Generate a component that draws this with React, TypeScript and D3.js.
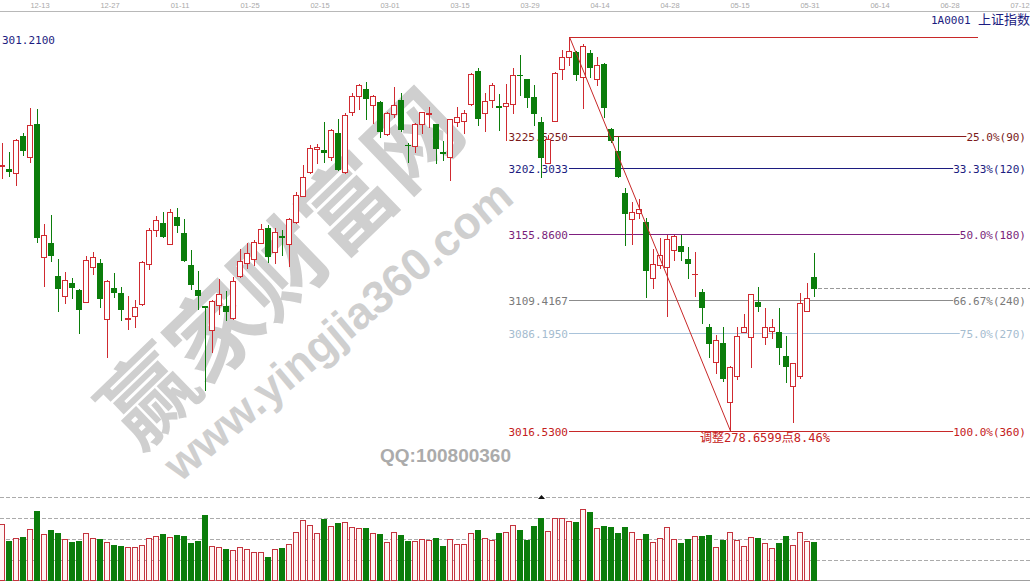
import React from 'react';
import * as d3 from 'd3';

// Daily K-line data, oldest first
const opens = [
  3204.0, 3201.8, 3198.8, 3225.2, 3210.1, 3233.7, 3139.4, 3149.3, 3126.2, 3112.2,
  3121.2, 3116.3, 3108.0, 3132.7, 3135.6, 3096.0, 3117.7, 3114.3, 3096.0, 3097.9,
  3106.1, 3134.4, 3158.7, 3163.4, 3149.0, 3167.9, 3156.4, 3133.9, 3116.3, 3104.7,
  3088.0, 3105.6, 3104.7, 3096.7, 3126.2, 3135.1, 3138.0, 3149.7, 3159.9, 3143.3,
  3154.3, 3148.6, 3164.6, 3183.0, 3199.5, 3216.2, 3215.3, 3210.5, 3227.5, 3199.5,
  3241.9, 3253.5, 3258.2, 3247.1, 3249.4, 3226.4, 3240.7, 3250.6, 3219.0, 3218.1,
  3233.5, 3241.0, 3233.5, 3213.8, 3210.1, 3235.3, 3235.8, 3247.6, 3271.4, 3241.2,
  3250.3, 3246.1, 3246.4, 3247.8, 3268.5, 3265.3, 3252.5, 3234.9, 3206.3, 3236.0,
  3272.4, 3280.8, 3284.8, 3266.7, 3283.7, 3265.3, 3276.1, 3229.9, 3214.8, 3184.7,
  3166.3, 3170.5, 3164.4, 3124.5, 3133.9, 3132.3, 3144.5, 3147.4, 3138.2, 3127.4,
  3115.0, 3089.9, 3065.5, 3078.6, 3037.3, 3055.4, 3086.8, 3083.2, 3108.0, 3083.2,
  3087.5, 3086.8, 3069.6, 3048.6, 3055.6, 3101.6, 3125.2,
];
const highs = [
  3220.0, 3213.9, 3223.0, 3227.5, 3244.8, 3244.1, 3162.9, 3169.3, 3138.0, 3128.8,
  3125.0, 3116.8, 3140.5, 3143.3, 3138.2, 3123.3, 3128.1, 3118.6, 3112.0, 3109.2,
  3136.6, 3159.9, 3168.6, 3171.6, 3173.5, 3174.5, 3166.3, 3144.5, 3129.7, 3105.0,
  3109.1, 3123.8, 3115.6, 3125.7, 3145.5, 3149.3, 3151.6, 3162.9, 3162.2, 3159.9,
  3158.7, 3167.0, 3185.8, 3204.7, 3218.8, 3219.5, 3235.3, 3230.1, 3237.0, 3241.2,
  3255.4, 3261.7, 3263.2, 3253.9, 3249.8, 3242.4, 3259.6, 3255.4, 3220.0, 3234.6,
  3242.4, 3245.5, 3233.9, 3221.6, 3237.4, 3245.9, 3243.6, 3269.5, 3273.1, 3255.4,
  3262.4, 3254.7, 3261.6, 3273.6, 3282.5, 3265.7, 3261.2, 3238.8, 3225.9, 3270.3,
  3286.0, 3295.19, 3285.2, 3290.2, 3286.0, 3280.8, 3276.5, 3230.8, 3224.7, 3188.2,
  3178.7, 3180.4, 3167.2, 3145.0, 3152.8, 3155.2, 3155.2, 3155.2, 3146.9, 3143.3,
  3116.8, 3092.2, 3084.4, 3089.9, 3062.4, 3090.3, 3099.1, 3113.6, 3118.6, 3103.3,
  3095.5, 3103.3, 3083.7, 3064.8, 3114.3, 3121.0, 3142.2,
];
const lows = [
  3195.3, 3196.9, 3190.5, 3211.7, 3207.0, 3150.4, 3119.1, 3137.0, 3101.6, 3106.9,
  3110.8, 3085.6, 3107.5, 3127.4, 3104.4, 3069.1, 3111.5, 3095.0, 3088.5, 3090.3,
  3105.6, 3130.9, 3154.5, 3153.5, 3148.6, 3157.5, 3136.8, 3116.8, 3102.6, 3045.5,
  3072.6, 3099.3, 3095.0, 3096.0, 3125.8, 3131.6, 3133.7, 3149.3, 3136.3, 3135.6,
  3141.0, 3133.2, 3163.4, 3182.6, 3199.1, 3205.9, 3207.0, 3208.2, 3201.1, 3199.1,
  3240.0, 3244.1, 3237.0, 3234.2, 3224.3, 3226.0, 3238.4, 3228.9, 3207.0, 3214.1,
  3227.1, 3231.8, 3205.9, 3208.2, 3194.1, 3232.2, 3227.5, 3247.2, 3233.0, 3228.7,
  3245.9, 3229.1, 3222.3, 3241.2, 3254.2, 3245.9, 3233.0, 3196.4, 3205.9, 3235.6,
  3265.3, 3275.4, 3264.8, 3244.8, 3267.1, 3261.2, 3238.4, 3220.9, 3196.5, 3148.1,
  3148.8, 3167.0, 3111.5, 3117.9, 3131.6, 3097.9, 3137.5, 3137.5, 3124.5, 3112.0,
  3092.7, 3069.1, 3057.3, 3052.1, 3016.53, 3053.1, 3086.4, 3061.6, 3101.6, 3078.1,
  3082.1, 3063.9, 3051.4, 3023.1, 3053.8, 3101.2, 3112.0,
];
const closes = [
  3204.7, 3200.4, 3222.3, 3215.3, 3233.0, 3153.5, 3155.2, 3141.2, 3117.9, 3123.3,
  3118.6, 3103.0, 3137.5, 3139.4, 3110.8, 3122.8, 3114.8, 3103.0, 3096.4, 3104.0,
  3136.1, 3158.7, 3165.6, 3154.5, 3171.2, 3162.2, 3137.3, 3120.3, 3112.9, 3104.0,
  3108.7, 3113.4, 3101.6, 3122.8, 3136.6, 3142.2, 3149.9, 3159.2, 3140.5, 3157.1,
  3153.9, 3166.7, 3183.4, 3196.4, 3216.5, 3217.6, 3213.6, 3229.4, 3201.8, 3240.0,
  3253.5, 3261.2, 3251.8, 3253.5, 3228.9, 3241.7, 3247.1, 3230.1, 3218.6, 3233.7,
  3241.9, 3241.4, 3216.9, 3213.4, 3237.0, 3238.8, 3241.7, 3269.0, 3237.7, 3250.1,
  3261.2, 3245.7, 3248.5, 3268.5, 3268.1, 3253.0, 3241.7, 3210.5, 3222.8, 3269.9,
  3280.8, 3285.5, 3269.0, 3288.8, 3273.8, 3275.4, 3245.9, 3222.3, 3196.9, 3170.9,
  3171.6, 3173.3, 3130.4, 3134.6, 3141.0, 3152.3, 3154.5, 3144.0, 3135.6, 3127.8,
  3104.0, 3079.0, 3080.9, 3053.8, 3062.0, 3083.7, 3090.3, 3113.2, 3104.9, 3090.3,
  3090.3, 3076.2, 3062.7, 3064.4, 3107.3, 3110.4, 3117.9,
];
const volumes = [
  270, 190, 203, 210, 246, 333, 224, 243, 229, 198,
  186, 190, 227, 203, 198, 184, 171, 167, 160, 160,
  170, 203, 213, 224, 208, 219, 214, 181, 190, 314,
  165, 160, 152, 146, 160, 151, 137, 137, 114, 151,
  157, 175, 232, 289, 267, 227, 295, 262, 276, 279,
  256, 251, 251, 227, 224, 184, 232, 219, 190, 190,
  198, 195, 203, 167, 198, 175, 175, 227, 243, 203,
  194, 229, 232, 265, 243, 195, 262, 300, 237, 298,
  298, 284, 281, 341, 329, 251, 262, 257, 229, 257,
  232, 198, 224, 184, 203, 256, 198, 181, 198, 213,
  213, 219, 160, 195, 232, 194, 165, 208, 203, 180,
  156, 181, 213, 170, 232, 190, 186,
];

// Date axis: one label every ten sessions, starting at session 5
const dateLabels = [
  '12-13', '12-27', '01-11', '01-25', '02-15', '03-01', '03-15', '03-29',
  '04-14', '04-28', '05-15', '05-31', '06-14', '06-28', '07-12',
];
const firstLabelIndex = 5;
const labelStep = 10;

// Golden-section retracement levels measured from the swing high
const fibRatios = [0.25, 1 / 3, 0.5, 2 / 3, 0.75, 1];
const fibLineColors = ['#8b1c1c', '#1c1c80', '#7f1f7f', '#8c8c8c', '#a9c3da', '#c82828'];
const fibTextColors = ['#7a1a1a', '#1c1c80', '#7a1f7a', '#7a7a7a', '#a5bccf', '#c42020'];

const volumeTicks = [100, 200, 300, 400];
const volumeMarkerIndex = 77;
const axisTopLabel = '301.2100';
const symbolCode = '1A0001';
const symbolName = '上证指数';

const RED = '#d02a30';
const GREEN = '#0b7d0b';
const MONO = "'DejaVu Sans Mono', monospace";

// 4-decimal truncation, as the quote software prints the swing size
const trunc4 = (v: number) => (Math.floor(v * 1e4) / 1e4).toFixed(4);

export default function App() {
  const n = opens.length;
  const hiIdx = d3.maxIndex(highs);
  const loIdx = d3.minIndex(lows);
  const swingHigh = highs[hiIdx];
  const swingLow = lows[loIdx];

  const x = d3.scaleLinear().domain([0, n - 1]).range([2, 2 + 7 * (n - 1)]);
  const y = d3.scaleLinear().domain([swingLow, swingHigh]).range([431, 37]);
  const yv = d3.scaleLinear().domain([0, 400]).range([581, 497]);

  const ry = (v: number) => Math.round(y(v));
  const xPeak = Math.round(x(hiIdx));
  const xLow = Math.round(x(loIdx));
  const range = swingHigh - swingLow;
  const charW = 11 * 0.602;

  const fmtRatio = (r: number) => {
    const pct = r * 100;
    const txt = Math.abs(pct - Math.round(pct)) > 1e-6 ? pct.toFixed(2) : pct.toFixed(1);
    return `${txt}%(${Math.round(r * 360)})`;
  };

  const lastClose = closes[n - 1];
  const yLast = ry(lastClose) + 0.5;

  return (
    <svg
      width={1030}
      height={582}
      style={{ position: 'fixed', left: 0, top: 0, background: '#fff' }}
      xmlns="http://www.w3.org/2000/svg"
    >
      <rect x={0} y={0} width={1030} height={582} fill="#fff" />

      {/* watermark, beneath the price marks */}
      <g fill="#cfcfcf" fontWeight="bold">
        <text
          x={276}
          y={263}
          textAnchor="middle"
          dominantBaseline="central"
          fontSize={92}
          fontFamily="'Noto Sans CJK SC', sans-serif"
          transform="rotate(-44 276 263)"
        >
          赢家财富网
        </text>
        <text
          x={338}
          y={330}
          textAnchor="middle"
          dominantBaseline="central"
          fontSize={45}
          fontFamily="'Liberation Sans', Arial, sans-serif"
          transform="rotate(-40 338 330)"
        >
          www.yingjia360.com
        </text>
      </g>
      <text x={380} y={462} fontSize={19} fontWeight="bold" fontFamily="'Liberation Sans', Arial, sans-serif" fill="#ababab">
        QQ:100800360
      </text>

      {/* date axis */}
      <line x1={0} x2={1030} y1={11.5} y2={11.5} stroke="#b8b8b8" />
      {dateLabels.map((d, k) => (
        <text
          key={d}
          x={x(firstLabelIndex + k * labelStep) + 3}
          y={8}
          textAnchor="middle"
          fontSize={7.5}
          fontFamily="'Liberation Sans', Arial, sans-serif"
          fill="#a8a8a8"
        >
          {d}
        </text>
      ))}
      <text x={2} y={44} fontSize={11} fontFamily={MONO} fill="#1c1c80">
        {axisTopLabel}
      </text>
      <text x={931} y={24} fontSize={11} fontFamily={MONO} fill="#1c1c80">
        {symbolCode}
      </text>
      <text x={978} y={24} fontSize={13} fontFamily="'Noto Sans CJK SC', sans-serif" fill="#1c1c80">
        {symbolName}
      </text>

      {/* retracement levels */}
      <line x1={xPeak} x2={978} y1={ry(swingHigh) + 0.5} y2={ry(swingHigh) + 0.5} stroke="#c82828" />
      {fibRatios.map((r, k) => {
        const price = swingHigh - r * range;
        const yy = ry(price) + 0.5;
        const right = fmtRatio(r);
        const rightStart = 1026 - right.length * charW;
        return (
          <g key={k}>
            <line x1={xPeak} x2={rightStart} y1={yy} y2={yy} stroke={fibLineColors[k]} />
            <text x={xPeak - 1} y={yy + 4} textAnchor="end" fontSize={11} fontFamily={MONO} fill={fibTextColors[k]}>
              {price.toFixed(4)}
            </text>
            <text x={1026} y={yy + 4} textAnchor="end" fontSize={11} fontFamily={MONO} fill={fibTextColors[k]}>
              {right}
            </text>
          </g>
        );
      })}

      {/* candles */}
      {opens.map((o, i) => {
        const c = closes[i];
        const cx = Math.round(x(i));
        const up = c >= o;
        const col = up ? RED : GREEN;
        const yo = ry(o);
        const yc = ry(c);
        const top = Math.min(yo, yc);
        const bot = Math.max(yo, yc);
        return (
          <g key={i}>
            <line x1={cx + 0.5} x2={cx + 0.5} y1={ry(highs[i])} y2={ry(lows[i]) + 1} stroke={col} />
            {bot - top < 1 ? (
              <line x1={cx - 3} x2={cx + 3} y1={top + 0.5} y2={top + 0.5} stroke={col} />
            ) : up ? (
              <rect x={cx - 2.5} y={top + 0.5} width={5} height={bot - top} fill="#fff" stroke={col} />
            ) : (
              <rect x={cx - 3} y={top} width={6} height={bot - top + 1} fill={col} />
            )}
          </g>
        );
      })}

      {/* swing line from high to low */}
      <line x1={xPeak + 0.5} y1={ry(swingHigh)} x2={xLow + 0.5} y2={ry(swingLow)} stroke="#c82828" />
      <text
        x={xLow - 30}
        y={ry(swingLow) + 11}
        fontSize={12}
        fontFamily="'DejaVu Sans Mono', 'Noto Sans CJK SC', monospace"
        fill="#c42020"
      >
        {`调整${trunc4(range)}点${((range / swingHigh) * 100).toFixed(2)}%`}
      </text>

      {/* last close reference */}
      <line x1={Math.round(x(n - 1)) + 4} x2={1030} y1={yLast} y2={yLast} stroke="#999" strokeDasharray="4,2" />

      {/* volume panel */}
      {volumeTicks.map((t) => (
        <line key={t} x1={0} x2={1030} y1={Math.round(yv(t)) + 0.5} y2={Math.round(yv(t)) + 0.5} stroke="#ababab" strokeDasharray="4,2" />
      ))}
      <line x1={0} x2={1030} y1={580.5} y2={580.5} stroke="#a0a0a0" />
      {volumes.map((v, i) => {
        const cx = Math.round(x(i));
        const up = closes[i] >= opens[i];
        const top = Math.round(yv(v));
        return up ? (
          <rect key={i} x={cx - 2.5} y={top + 0.5} width={5} height={580 - top} fill="#fff5f5" stroke="#c4343e" />
        ) : (
          <rect key={i} x={cx - 3} y={top} width={6} height={581 - top} fill={GREEN} />
        );
      })}
      <path
        d={`M${Math.round(x(volumeMarkerIndex)) + 0.5},${495} l-3.5,4 h7 z`}
        fill="#111"
      />
    </svg>
  );
}
